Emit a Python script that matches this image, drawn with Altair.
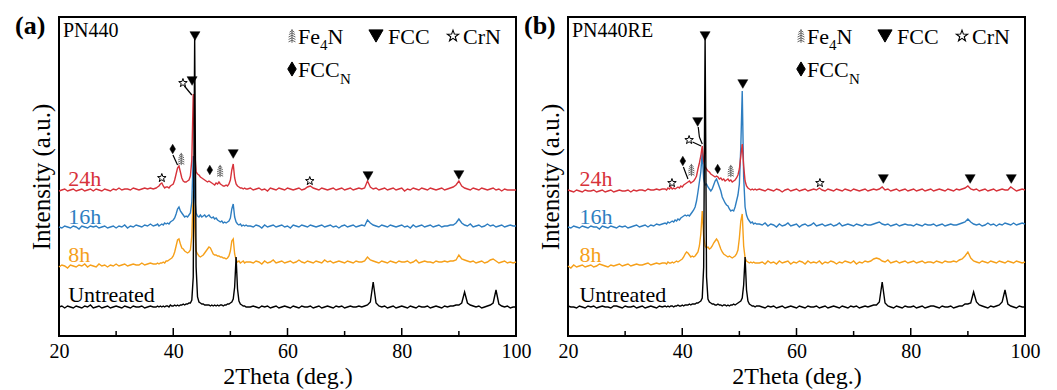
import altair as alt
import pandas as pd

FONT = "Liberation Serif"
W, H = 457, 319

# ---- shared 2Theta sampling segments: (start, step) ----
SEG_START = [20.0, 37.0, 53.5]
SEG_STEP = [0.5, 0.25, 0.5]

# ---- panel (a) PN440 : intensities (relative to each trace's baseline) ----
A_UNT = [
    [0, 1, -1, 1, 0, -1, 1, 0, -1, 1, 0, 2, -1, 0, 1, -1, 0, 1, -1, 0,
     1, 0, -1, 1, 0, -1, 1, 0, 0, 1, -1, 0, 1, 0],
    [0, 1, 0, 1, 0, 1, 0, 1, 1, 0, 2, 1, 1, 2, 1, 2, 1, 2, 2, 3, 2, 3, 3, 4,
     4, 7, 30, 268, 40, 10, 5, 4, 3, 3, 2, 2, 2, 2, 1, 2, 1, 2, 1, 2, 1, 2, 2, 1,
     2, 2, 3, 3, 4, 5, 8, 20, 50, 18, 6, 3, 2, 1, 1, 0, 0],
    [0,
     1, 0, -1, 1, 0, 1, -1, 0, 1, -1, 0, 1,
     0, -1, 1, 0, -1, 1, 0, 0, 1, -1, 0, 1, -1, 0, 1, 0, -1, 1, 0, 1,
     -1, 0, 1, 0, 0, 1, 0, 1, 2, 5, 25, 4, 1, 0, 1, -1, 0, 1, -1, 0,
     1, 0, -1, 1, 0, -1, 1, 0, 0, 1, -1, 0, 1, 0, -1, 1, 0, 1, 1, 2,
     2, 4, 15, 4, 2, 1, 0, 1, -1, 0, 1, 2, 4, 17, 3, 1, 0, 1, -1, 0,
     0],
]
A_8H = [
    [-1, 1, 0, -2, 1, 0, -1, 1, 0, 2, -1, 1, 0, -1, 2, 0, 1, -1, 1, 0,
     2, 0, 1, 2, 0, 1, 2, 1, 1, 3, 1, 2, 3, 2],
    [2, 3, 2, 3, 3, 4, 3, 5, 5, 6, 7, 8, 10, 14, 20, 26, 27, 22, 18, 17, 15, 14, 13, 14,
     16, 30, 75, 40, 15, 12, 10, 9, 10, 11, 13, 15, 17, 19, 18, 15, 12, 11, 11, 10,
     10, 9, 9, 8, 8, 7, 8, 10, 15, 25, 27, 12, 6, 4, 5, 3, 4, 5, 3, 4, 4],
    [4,
     3, 5, 4, 2, 5, 3, 4, 6, 3, 4, 5, 3,
     4, 5, 3, 4, 6, 4, 3, 5, 4, 3, 5, 4, 3, 6, 4, 5, 3, 4, 5, 4,
     3, 5, 4, 3, 5, 4, 4, 5, 9, 6, 5, 4, 3, 5, 4, 3, 5, 4, 3, 5,
     4, 4, 5, 3, 4, 6, 3, 4, 5, 4, 4, 3, 5, 4, 4, 5, 4, 5, 5, 6,
     11, 7, 6, 5, 4, 5, 3, 4, 5, 3, 4, 6, 7, 5, 3, 4, 5, 3, 4, 3,
     4],
]
A_16H = [
    [0, -1, 1, 0, -1, 1, 0, -2, 1, 0, -1, 1, 0, 1, -1, 0, 1, -1, 0, 1,
     -1, 1, 0, 2, -1, 1, 0, 2, 1, 0, 2, 1, 3, 1],
    [2, 3, 1, 2, 3, 2, 4, 3, 4, 3, 5, 6, 7, 9, 13, 18, 20, 16, 14, 12, 10, 11, 10, 12,
     14, 25, 71, 30, 14, 11, 10, 12, 10, 11, 12, 10, 11, 12, 10, 9, 10, 8, 9, 7,
     6, 5, 6, 4, 5, 4, 5, 6, 9, 18, 23, 10, 5, 3, 2, 3, 1, 2, 1, 2, 1],
    [1,
     0, 2, 1, -1, 2, 0, 1, 2, 0, 1, 2, 0,
     1, -1, 2, 1, 0, 2, 1, 0, 2, 1, 0, 1, 2, 0, 1, 2, 0, 1, -1, 1,
     2, 0, 1, 2, 0, 1, 2, 1, 7, 4, 2, 1, 0, 2, 1, 0, 2, 1, 0, 1,
     2, 0, 1, -1, 2, 0, 1, 2, 0, 1, 2, 0, 1, 2, 0, 1, 1, 2, 2, 4,
     8, 4, 2, 1, 3, 0, 1, 2, 0, 1, 3, 1, 2, 0, 1, 2, 0, 1, 2, 1,
     1],
]
A_24H = [
    [-1, 0, 1, -1, 0, 1, -1, 0, 1, -1, 0, 1, -1, 1, 0, -1, 1, 0, -1, 1,
     0, 2, 0, 1, 1, 0, 2, 1, 0, 1, 2, 1, 2, 1],
    [2, 3, 4, 6, 7, 4, 2, 3, 3, 2, 4, 5, 6, 10, 16, 22, 24, 18, 12, 9, 8, 8, 9, 10,
     14, 30, 96, 40, 18, 16, 15, 13, 12, 11, 10, 9, 8, 9, 8, 7, 6, 5, 7, 6,
     8, 6, 5, 4, 4, 5, 4, 6, 10, 20, 26, 12, 6, 4, 3, 2, 2, 1, 2, 1, 1],
    [2,
     0, 1, 2, 0, 1, -1, 2, 1, 0, 2, 1, 0,
     2, 1, 0, 1, 2, 0, 1, 3, 4, 2, 1, 0, 2, 1, 0, 1, 2, 0, 1, 2,
     0, 1, 2, 0, 1, 2, 1, 2, 9, 3, 1, 2, 0, 1, 2, 0, 1, 2, 0, 1,
     2, -1, 1, 0, 2, 1, 0, 2, 1, 0, 2, 1, 0, 1, 2, 0, 1, 2, 3, 5,
     9, 4, 2, 1, 0, 2, 1, 0, 2, 1, 0, 1, 2, 0, 1, -1, 1, 0, 0, 0,
     0],
]

# ---- panel (b) PN440RE ----
B_UNT = [
    [1, 0, 0, -1, 1, 0, -1, 1, 0, 1, -1, 0, 1, 0, 0, -1, 1, 1, 0, -1,
     1, 0, 0, 1, -1, 0, 1, -1, 0, 1, 0, -1, 1, 0],
    [1, 0, 1, 0, 1, 1, 0, 1, 1, 2, 1, 1, 2, 1, 2, 2, 2, 3, 2, 3, 3, 3, 4, 4,
     5, 6, 9, 40, 271, 30, 8, 5, 4, 3, 3, 2, 2, 3, 2, 2, 1, 2, 2, 1,
     2, 1, 2, 2, 3, 2, 3, 4, 5, 6, 9, 22, 50, 17, 6, 3, 2, 1, 1, 0, 1],
    [1,
     0, -1, 1, 0, 1, -1, 0, 1, -1, 0, 1, 0,
     -1, 1, 0, -1, 1, 0, 0, 1, -1, 0, 1, -1, 0, 1, 0, -1, 1, 0, -1, 1,
     0, 1, -1, 0, 1, 0, 1, 2, 2, 5, 25, 4, 1, 0, -1, 1, 0, -1, 1, 0,
     0, 1, -1, 0, 1, -1, 0, 1, 1, 0, -1, 1, 0, 0, 1, -1, 0, 1, 1, 3,
     3, 4, 15, 5, 2, 1, 0, -1, 1, 0, 1, 2, 5, 17, 3, 1, 0, -1, 1, 0,
     0],
]
B_8H = [
    [0, -2, 1, -1, 0, 1, -1, 0, 1, -1, 0, 2, 1, 0, -1, 1, 0, 1, 2, 0,
     1, 2, 0, 1, 2, 1, 1, 2, 3, 1, 2, 3, 2, 3],
    [3, 2, 4, 3, 3, 4, 3, 4, 5, 4, 5, 6, 7, 9, 12, 14, 13, 11, 9, 10, 9, 10, 12, 14,
     20, 32, 55, 30, 20, 18, 19, 17, 18, 20, 23, 25, 27, 25, 21, 17, 14, 12, 11, 10,
     9, 10, 9, 8, 9, 10, 12, 16, 28, 45, 52, 20, 8, 5, 4, 3, 4, 3, 4, 3, 3],
    [3,
     4, 2, 5, 3, 4, 2, 5, 3, 4, 5, 2, 4,
     3, 5, 4, 2, 5, 3, 4, 3, 5, 2, 4, 3, 5, 4, 2, 4, 3, 5, 4, 3,
     5, 2, 4, 3, 5, 4, 5, 7, 8, 7, 5, 4, 6, 3, 4, 5, 3, 4, 5, 3,
     4, 5, 3, 4, 5, 3, 4, 4, 3, 5, 4, 3, 5, 4, 4, 5, 4, 6, 7, 10,
     14, 8, 5, 4, 3, 5, 4, 3, 5, 4, 3, 5, 4, 3, 5, 4, 3, 5, 4, 3,
     4],
]
B_16H = [
    [0, -1, 1, 0, -1, 1, 0, -1, 1, 0, 0, -2, 1, 0, -1, 1, 0, -1, 1, 0,
     1, -1, 0, 1, 2, 0, 1, 2, 0, 2, 1, 3, 2, 3],
    [4, 3, 5, 4, 5, 6, 5, 7, 6, 8, 7, 9, 10, 11, 12, 11, 12, 11, 13, 15, 17, 20, 26, 35,
     45, 55, 75, 48, 42, 43, 40, 38, 36, 38, 42, 46, 48, 44, 40, 36, 30, 27, 24, 22,
     21, 18, 16, 17, 16, 20, 26, 32, 43, 80, 136, 50, 20, 12, 8, 6, 4, 5, 3, 4, 3],
    [3,
     2, 4, 1, 3, 2, 0, 3, 1, 2, 4, 1, 2,
     3, 0, 2, 3, 1, 2, 4, 1, 2, 3, 1, 2, 3, 1, 2, 4, 1, 2, 3, 2,
     1, 3, 2, 1, 3, 2, 2, 3, 4, 5, 3, 2, 3, 1, 2, 3, 1, 2, 3, 2,
     2, 1, 3, 2, 1, 3, 2, 2, 3, 1, 2, 3, 1, 2, 3, 2, 2, 3, 4, 5,
     8, 5, 3, 2, 3, 1, 2, 4, 2, 3, 1, 3, 2, 4, 3, 2, 4, 2, 3, 4,
     3],
]
B_24H = [
    [1, 0, -1, 1, 0, -1, 1, 0, 0, 1, -1, 0, 1, -1, 0, 1, -1, 0, 1, 0,
     0, 1, -1, 1, 0, 1, 1, 0, 2, 1, 1, 2, 1, 2],
    [2, 1, 3, 2, 4, 2, 3, 2, 3, 4, 3, 5, 4, 6, 7, 8, 9, 10, 8, 9, 10, 12, 15, 22,
     28, 35, 45, 30, 24, 22, 20, 19, 17, 16, 15, 14, 15, 14, 12, 13, 11, 12, 10, 11,
     12, 10, 11, 9, 10, 11, 13, 16, 22, 35, 47, 25, 10, 5, 3, 2, 1, 2, 1, 2, 1],
    [2,
     1, 0, 2, 1, 0, 2, 1, -1, 1, 2, 0, 1,
     2, 0, 1, 2, 0, 1, 2, 1, 3, 1, 0, 2, 1, 0, 2, 1, 0, 2, 1, 0,
     2, 1, 0, 1, 2, 0, 1, 2, 1, 2, 4, 1, 2, 0, 1, 2, 0, 1, 2, 0,
     1, 2, 0, 1, 2, 0, 1, 2, 0, 1, 2, 1, 0, 2, 1, 0, 2, 1, 2, 3,
     5, 2, 1, 2, 0, 1, 2, 0, 1, 2, 0, 1, 2, 1, 1, 4, 2, 0, 1, 2,
     1],
]

SERIES_NAMES = ["Untreated", "8h", "16h", "24h"]
OFFSETS_A = [29, 70, 109, 146]
OFFSETS_B = [29, 70, 109, 145]
LABEL_Y = [34, 74, 112, 150]
COLORS = ["#000000", "#F6A01A", "#2E7EC1", "#D7323A"]

# phase markers: (phase, 2theta, intensity level)
A_MARK_PHASE = ["FCC", "FCC", "CrN", "FCCN", "Fe4N", "CrN", "FCCN", "Fe4N", "FCC", "CrN", "FCC", "FCC"]
A_MARK_X = [43.8, 43.3, 41.7, 39.9, 41.4, 38.0, 46.4, 48.2, 50.5, 63.9, 74.1, 90.0]
A_MARK_Y = [300, 255, 253, 187, 177, 158, 166, 165, 182, 155, 160, 161]
B_MARK_PHASE = ["FCC", "FCC", "FCC", "CrN", "FCCN", "Fe4N", "FCCN", "Fe4N", "CrN", "CrN", "FCC", "FCC", "FCC"]
B_MARK_X = [44.0, 50.6, 42.7, 41.2, 40.1, 41.6, 46.2, 48.5, 38.2, 64.1, 75.2, 90.4, 97.6]
B_MARK_Y = [300, 252, 214, 196, 175, 166, 167, 165, 153, 153, 157, 157, 157]

# pointer lines: x1, y1, x2, y2
A_ARROWS = [(39.95, 181, 40.75, 171), (41.95, 250, 43.25, 241)]
B_ARROWS = [(42.8, 209, 43.0, 199), (43.0, 199, 43.5, 192), (41.8, 194, 43.3, 190), (40.2, 169, 41.0, 157)]

TICKS_MAJOR = [20, 40, 60, 80, 100]
TICKS_MINOR = [30, 50, 70, 90]

STAR = "M0,-1L0.235,-0.324L0.951,-0.309L0.38,0.124L0.588,0.809L0,0.4L-0.588,0.809L-0.38,0.124L-0.951,-0.309L-0.235,-0.324Z"
TREE = ("M0,-1L0,1M-0.35,-0.55L0,-0.8L0.35,-0.55M-0.45,-0.2L0,-0.45L0.45,-0.2"
        "M-0.5,0.15L0,-0.1L0.5,0.15M-0.5,0.5L0,0.25L0.5,0.5M-0.5,0.85L0,0.6L0.5,0.85")
DIAM = "M0,-1L0.6,0L0,1L-0.6,0Z"


def build(segs, offset):
    xs, ys = [], []
    for start, step, vals in zip(SEG_START, SEG_STEP, segs):
        for i, v in enumerate(vals):
            xs.append(round(start + step * i, 3))
            ys.append(offset + v)
    return pd.DataFrame({"x": xs, "y": ys}).sort_values("x", kind="stable")


xscale = alt.Scale(domain=[20, 100], nice=False, zero=False)
yscale = alt.Scale(domain=[0, H], nice=False, zero=False)
xaxis = alt.Axis(values=TICKS_MAJOR, format="d", title="2Theta (deg.)", ticks=False, tickSize=0,
                 domain=False, grid=False, labelFont=FONT, labelFontSize=20, labelColor="black",
                 labelPadding=5, labelFlush=False, labelOverlap=False, titleFont=FONT,
                 titleFontSize=24, titleFontWeight="normal", titleColor="black", titlePadding=3)
yaxis = alt.Axis(title="Intensity (a.u.)", labels=False, ticks=False, domain=False, grid=False,
                 titleFont=FONT, titleFontSize=25, titleFontWeight="normal", titleColor="black",
                 titlePadding=5)
XE = alt.X("x:Q", scale=xscale, axis=xaxis)
YE = alt.Y("y:Q", scale=yscale, axis=yaxis)


def txt(text, x, y, size=22, color="black", weight="normal"):
    return alt.Chart(pd.DataFrame({"a": [0]})).mark_text(
        text=text, align="left", baseline="alphabetic", font=FONT, fontSize=size,
        color=color, fontWeight=weight
    ).encode(x=alt.value(x), y=alt.value(y))


def sym(shape, x, y, size, filled, stroke="black", fill="black", sw=1.0):
    return alt.Chart(pd.DataFrame({"a": [0]})).mark_point(
        shape=shape, size=size, filled=filled, fill=fill if filled else "white",
        stroke=stroke, strokeWidth=sw, opacity=1
    ).encode(x=alt.value(x), y=alt.value(y))


def panel(series, offsets, label_x, mph, mx, my, arrows, tag, name):
    layers = []
    for key in [1, 2, 3, 0]:
        df = build(series[key], offsets[key])
        layers.append(alt.Chart(df).mark_line(color=COLORS[key], strokeWidth=1.4).encode(x=XE, y=YE))
    lab = pd.DataFrame({"name": SERIES_NAMES, "x": [label_x] * 4, "y": LABEL_Y, "c": COLORS})
    layers.append(alt.Chart(lab).mark_text(align="left", baseline="alphabetic", font=FONT, fontSize=22)
                  .encode(x=XE, y=YE, text="name:N", color=alt.Color("c:N", scale=None)))
    # inward ticks
    layers.append(alt.Chart(pd.DataFrame({"x": TICKS_MAJOR})).mark_rule(color="black", strokeWidth=1.5)
                  .encode(x=XE, y=alt.value(H), y2=alt.value(H - 8)))
    layers.append(alt.Chart(pd.DataFrame({"x": TICKS_MINOR})).mark_rule(color="black", strokeWidth=1.5)
                  .encode(x=XE, y=alt.value(H), y2=alt.value(H - 5)))
    # pointers
    ar = pd.DataFrame(arrows, columns=["x", "y", "x2", "y2"])
    layers.append(alt.Chart(ar).mark_rule(color="black", strokeWidth=1.2)
                  .encode(x=XE, y=YE, x2="x2:Q", y2="y2:Q"))
    # markers
    md = pd.DataFrame({"phase": mph, "x": mx, "y": my})
    specs = {
        "FCC": dict(shape="triangle-down", size=100, filled=True, fill="black", stroke="black", strokeWidth=0.5),
        "FCCN": dict(shape=DIAM, size=90, filled=True, fill="black", stroke="black", strokeWidth=0.5),
        "CrN": dict(shape=STAR, size=80, filled=True, fill="white", stroke="black", strokeWidth=1),
        "Fe4N": dict(shape=TREE, size=150, filled=False, fill="white", stroke="#555555", strokeWidth=0.9),
    }
    for ph, sp in specs.items():
        sub = md[md.phase == ph]
        layers.append(alt.Chart(sub).mark_point(opacity=1, **sp).encode(x=XE, y=YE))
    # legend
    layers += [
        sym(TREE, 233, 19, 190, False, stroke="#555555", sw=0.9),
        txt("Fe", 239, 27), txt("4", 261, 33, size=15), txt("N", 268.5, 27),
        sym("triangle-down", 317, 19, 200, True),
        txt("FCC", 329, 27),
        sym(STAR, 394, 19, 140, True, fill="white", sw=1.1),
        txt("CrN", 404, 27),
        sym(DIAM, 233, 52, 200, True),
        txt("FCC", 239, 60), txt("N", 281, 67, size=15),
        txt(name, 4, 20, size=20),
        txt(tag, -44, 17, size=26, weight="bold"),
    ]
    return alt.layer(*layers).properties(width=W, height=H)


pa = panel([A_UNT, A_8H, A_16H, A_24H], OFFSETS_A, 21.6, A_MARK_PHASE, A_MARK_X, A_MARK_Y,
           A_ARROWS, "(a)", "PN440")
pb = panel([B_UNT, B_8H, B_16H, B_24H], OFFSETS_B, 22.0, B_MARK_PHASE, B_MARK_X, B_MARK_Y,
           B_ARROWS, "(b)", "PN440RE")

chart = alt.hconcat(pa, pb, spacing=52, bounds="flush").properties(
    padding={"left": 14, "top": 12, "right": 5, "bottom": 0}
).configure_view(stroke="black", strokeWidth=2)

chart.save("out.html", embed_options={"renderer": "svg", "actions": False})
